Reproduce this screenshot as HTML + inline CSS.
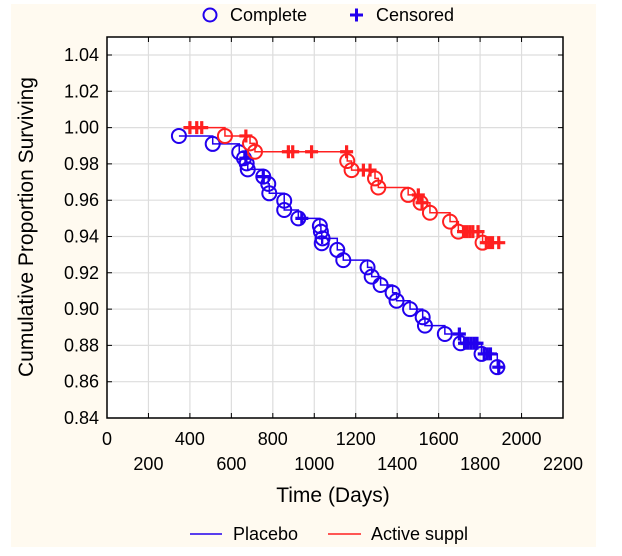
<!DOCTYPE html>
<html><head><meta charset="utf-8"><style>
html,body{margin:0;padding:0;background:#fff;}
svg{display:block;font-family:"Liberation Sans",Arial,sans-serif;}
</style></head><body>
<svg id="chart" width="622" height="556" viewBox="0 0 622 556" xmlns="http://www.w3.org/2000/svg">
<rect x="11" y="4" width="585" height="543" fill="#fffaf0"/>
<rect x="107" y="37" width="456" height="381" fill="#fff"/>
<g id="grid"></g>
<g id="axes"></g>
<g id="series"></g>
<text transform="translate(33,227) rotate(-90)" text-anchor="middle" font-size="21" fill="#000">Cumulative Proportion Surviving</text>
<text x="333" y="502" text-anchor="middle" font-size="21" fill="#000">Time (Days)</text>
<g>
<circle cx="210" cy="15" r="6.5" fill="none" stroke="#2200ee" stroke-width="2"/>
<text x="230" y="21" font-size="18">Complete</text>
<path d="M350 15h13M356.5 8.5v13" stroke="#2200ee" stroke-width="3"/>
<text x="376" y="21" font-size="18">Censored</text>
</g>
<g>
<line x1="190" y1="534" x2="222" y2="534" stroke="#2200ee" stroke-width="1.5"/>
<text x="233" y="540" font-size="18">Placebo</text>
<line x1="328" y1="534" x2="361" y2="534" stroke="#ff2020" stroke-width="1.5"/>
<text x="371" y="540" font-size="18">Active suppl</text>
</g>
</svg>
<script>
const xTicks=[0,200,400,600,800,1000,1200,1400,1600,1800,2000,2200];
const yTicks=[0.84,0.86,0.88,0.90,0.92,0.94,0.96,0.98,1.00,1.02,1.04];
const placeboEventT=[347,510,638,661,674,679,754,778,783,855,855,923,1027,1032,1040,1036,1111,1140,1257,1277,1320,1378,1397,1462,1523,1534,1630,1706,1807,1883];
const placeboEventS=[0.9954,0.991,0.9864,0.9831,0.9803,0.977,0.973,0.969,0.9638,0.9597,0.9546,0.950,0.9458,0.9427,0.939,0.9363,0.9326,0.927,0.923,0.9179,0.9133,0.909,0.9046,0.900,0.8955,0.8909,0.8863,0.8812,0.8753,0.868];
const placeboCensT=[670,754,940,1700,1725,1740,1755,1770,1785,1820,1835,1850,1890];
const placeboCensS=[0.9831,0.973,0.950,0.8863,0.8812,0.8812,0.8812,0.8812,0.8812,0.8753,0.8753,0.8753,0.868];
const activeEventT=[569,690,714,1159,1180,1293,1309,1453,1513,1558,1655,1695,1812];
const activeEventS=[0.9954,0.9913,0.9867,0.9816,0.9766,0.972,0.967,0.9629,0.9586,0.9531,0.9482,0.9427,0.9366];
const activeCensT=[400,433,457,670,875,896,987,1156,1237,1269,1502,1520,1720,1735,1750,1765,1790,1830,1845,1860,1890];
const activeCensS=[1.0,1.0,1.0,0.9954,0.9867,0.9867,0.9867,0.9867,0.9766,0.9766,0.9629,0.9586,0.9427,0.9427,0.9427,0.9427,0.9427,0.9366,0.9366,0.9366,0.9366];
const startT=[350,380];
const NS='http://www.w3.org/2000/svg';
const X0=107,X1=563,Y0=418,Y1=37;
function sx(t){return X0+t*(X1-X0)/2200;}
function sy(s){return Y0-(s-0.84)*(Y0-55)/0.20;}
function mk(tag,attrs,parent){const e=document.createElementNS(NS,tag);for(const k in attrs)e.setAttribute(k,attrs[k]);parent.appendChild(e);return e;}
const grid=document.getElementById('grid'),axes=document.getElementById('axes'),ser=document.getElementById('series');
xTicks.forEach((t,i)=>{
  if(i>0&&i<xTicks.length-1){const l=mk('line',{x1:sx(t),x2:sx(t),y1:Y1,y2:Y0,stroke:'#dddddd','stroke-width':1.2},grid);
  
  }
  const tk=mk('path',{d:`M${sx(t)} ${Y0}v-5M${sx(t)} ${Y1}v5`,stroke:'#000'},axes);
  
  
  const tx=mk('text',{x:sx(t),y:i%2===0?445:470,'text-anchor':'middle','font-size':18},axes);
  tx.textContent=String(t);
  
  
});
yTicks.forEach(v=>{
  const y=sy(v);
  const l=mk('line',{x1:X0,x2:X1,y1:y,y2:y,stroke:'#dddddd','stroke-width':1.2},grid);
  
  
  const tk=mk('path',{d:`M${X0} ${y}h5M${X1} ${y}h-5`,stroke:'#000'},axes);
  
  
  const tx=mk('text',{x:99,y:y+6,'text-anchor':'end','font-size':18},axes);
  tx.textContent=v.toFixed(2);
  
  
});
const frame=mk('rect',{x:X0,y:Y1,width:X1-X0,height:Y0-Y1,fill:'none',stroke:'#000','stroke-width':1.5},axes);


function drawSeries(name,color,t0,eT,eS,cT,cS){
  const g=mk('g',{},ser);
  
  
  const pts=[];eT.forEach((t,i)=>pts.push([t,eS[i]]));cT.forEach((t,i)=>pts.push([t,cS[i]]));
  pts.sort((a,b)=>a[0]-b[0]||b[1]-a[1]);
  let d=`M${sx(t0)} ${sy(pts[0][1])}`;let cur=pts[0][1];
  pts.forEach(p=>{d+=`H${sx(p[0])}`;if(p[1]!==cur){d+=`V${sy(p[1])}`;cur=p[1];}});
  const path=mk('path',{d:d,fill:'none',stroke:color,'stroke-width':1.5},g);
  
  
  eT.forEach((t,i)=>{const c=mk('circle',{cx:sx(t),cy:sy(eS[i]),r:7,fill:'none',stroke:color,'stroke-width':2},g);
    
    });
  cT.forEach((t,i)=>{const x=sx(t),y=sy(cS[i]);const p=mk('path',{d:`M${x-6.5} ${y}h13M${x} ${y-6.5}v13`,stroke:color,'stroke-width':3.2},g);
    
    });
}
drawSeries('placebo','#2200ee',startT[0],placeboEventT,placeboEventS,placeboCensT,placeboCensS);
drawSeries('active','#ff2020',startT[1],activeEventT,activeEventS,activeCensT,activeCensS);
</script>
</body></html>
